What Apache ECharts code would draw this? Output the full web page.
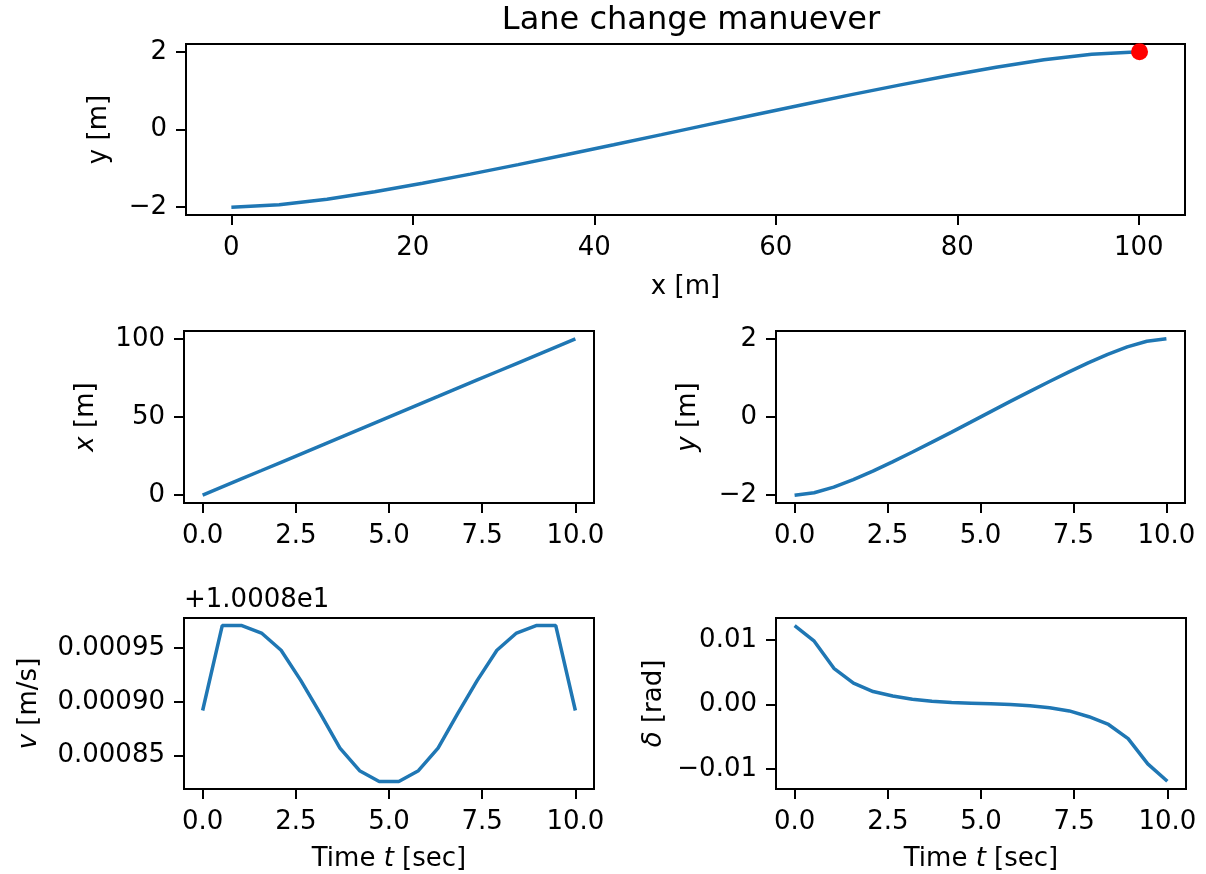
<!DOCTYPE html>
<html>
<head>
<meta charset="utf-8">
<script src="https://cdn.jsdelivr.net/npm/echarts@6/dist/echarts.min.js"></script>
<style>
html,body{margin:0;padding:0;background:#fff;}
#chart{width:1206px;height:874px;}
</style>
</head>
<body>
<div id="chart"></div>
<script>
// ---- data ----
const timeSec = [0, 0.526, 1.053, 1.579, 2.105, 2.632, 3.158, 3.684, 4.211, 4.737,
                 5.263, 5.789, 6.316, 6.842, 7.368, 7.895, 8.421, 8.947, 9.474, 10.0];
const xPos = [0, 5.27, 10.54, 15.80, 21.07, 26.34, 31.61, 36.87, 42.14, 47.41,
              52.68, 57.95, 63.21, 68.48, 73.75, 79.02, 84.28, 89.55, 94.82, 100.09];
const yPos = [-2.0, -1.939, -1.795, -1.604, -1.385, -1.149, -0.903, -0.650, -0.392, -0.132,
              0.132, 0.392, 0.650, 0.903, 1.149, 1.385, 1.604, 1.795, 1.939, 2.0];
// speed minus offset 10.008 (offset shown as "+1.0008e1")
const speedOffset = '+1.0008e1';
const speedRel = [0.000892, 0.000971, 0.000971, 0.000964, 0.000948, 0.000920, 0.000889, 0.000857, 0.000836, 0.000826,
                  0.000826, 0.000836, 0.000857, 0.000889, 0.000920, 0.000948, 0.000964, 0.000971, 0.000971, 0.000892];
const steer = [0.0122, 0.0098, 0.0056, 0.0033, 0.0020, 0.0013, 0.0008, 0.0005, 0.0003, 0.0002,
               0.0001, 0.0000, -0.0002, -0.0005, -0.0010, -0.0019, -0.0031, -0.0053, -0.0092, -0.0119];
const goalPoint = [[100.09, 2.0]];

// ---- tick labels ----
const xTopTicks = [0, 20, 40, 60, 80, 100];
const xTopLabels = ['0', '20', '40', '60', '80', '100'];
const yTicks = [-2, 0, 2];
const yLabels = ['\u22122', '0', '2'];
const xMidTicks = [0, 50, 100];
const xMidLabels = ['0', '50', '100'];
const tTicks = [0, 2.5, 5, 7.5, 10];
const tLabels = ['0.0', '2.5', '5.0', '7.5', '10.0'];
const vTicks = [0.00085, 0.00090, 0.00095];
const vLabels = ['0.00085', '0.00090', '0.00095'];
const dTicks = [-0.01, 0, 0.01];
const dLabels = ['\u22120.01', '0.00', '0.01'];

const FONT = 'DejaVu Sans';
const FS = 26;
const BLUE = '#1f77b4';

function fmt(ticks, labels) {
  return function (v) {
    for (let i = 0; i < ticks.length; i++) {
      if (Math.abs(v - ticks[i]) < 1e-9 * Math.max(1, Math.abs(ticks[i])) + 1e-12) return labels[i];
    }
    return '';
  };
}
const nameStyle = {
  fontFamily: FONT, fontSize: FS, color: '#000',
  rich: { i: { fontFamily: FONT, fontSize: FS, fontStyle: 'italic', color: '#000' } }
};
function axis(gridIndex, min, max, ticks, labels, name, nameGap, margin) {
  return {
    type: 'value', gridIndex: gridIndex, min: min, max: max,
    splitLine: { show: false },
    axisLine: { show: true, onZero: false, lineStyle: { color: '#000', width: 2 } },
    axisTick: { show: true, inside: false, length: 10, customValues: ticks,
                lineStyle: { color: '#000', width: 2 } },
    axisLabel: { customValues: ticks, formatter: fmt(ticks, labels), margin: margin,
                 fontFamily: FONT, fontSize: FS, color: '#000' },
    name: name, nameLocation: 'middle', nameGap: nameGap, nameTextStyle: nameStyle
  };
}
function pairs(a, b) { return a.map((v, i) => [v, b[i]]); }
const gridBase = { show: true, borderColor: '#000', borderWidth: 2, backgroundColor: '#fff' };

const option = {
  animation: false,
  backgroundColor: '#fff',
  title: {
    text: 'Lane change manuever', left: 686, top: 0, textAlign: 'center',
    textStyle: { fontFamily: FONT, fontSize: 32, fontWeight: 'normal', color: '#000' }
  },
  grid: [
    Object.assign({ left: 186, top: 44, width: 999, height: 171 }, gridBase),
    Object.assign({ left: 184, top: 331, width: 410, height: 172 }, gridBase),
    Object.assign({ left: 776, top: 331, width: 409, height: 172 }, gridBase),
    Object.assign({ left: 184, top: 618, width: 410, height: 171 }, gridBase),
    Object.assign({ left: 776, top: 618, width: 410, height: 171 }, gridBase)
  ],
  xAxis: [
    axis(0, -5.0, 105.1, xTopTicks, xTopLabels, 'x [m]', 59, 20),
    axis(1, -0.5, 10.5, tTicks, tLabels, '', 0, 20),
    axis(2, -0.5, 10.5, tTicks, tLabels, '', 0, 20),
    axis(3, -0.5, 10.5, tTicks, tLabels, 'Time {i|t} [sec]', 57, 20),
    axis(4, -0.5, 10.5, tTicks, tLabels, 'Time {i|t} [sec]', 57, 20)
  ],
  yAxis: [
    axis(0, -2.2, 2.2, yTicks, yLabels, 'y [m]', 74, 19),
    axis(1, -5.0, 105.1, xMidTicks, xMidLabels, '{i|x} [m]', 85, 19),
    axis(2, -2.2, 2.2, yTicks, yLabels, '{i|y} [m]', 75, 19),
    axis(3, 0.000819, 0.000978, vTicks, vLabels, '{i|v} [m/s]', 142, 19),
    axis(4, -0.0131, 0.0134, dTicks, dLabels, '{i|\u03b4} [rad]', 109, 19)
  ],
  series: [
    { type: 'line', xAxisIndex: 0, yAxisIndex: 0, data: pairs(xPos, yPos), symbol: 'none',
      lineStyle: { color: BLUE, width: 3.5 }, z: 2 },
    { type: 'scatter', xAxisIndex: 0, yAxisIndex: 0, data: goalPoint, symbol: 'circle', symbolSize: 17,
      itemStyle: { color: '#ff0000', opacity: 1 }, z: 3 },
    { type: 'line', xAxisIndex: 1, yAxisIndex: 1, data: pairs(timeSec, xPos), symbol: 'none',
      lineStyle: { color: BLUE, width: 3.5 } },
    { type: 'line', xAxisIndex: 2, yAxisIndex: 2, data: pairs(timeSec, yPos), symbol: 'none',
      lineStyle: { color: BLUE, width: 3.5 } },
    { type: 'line', xAxisIndex: 3, yAxisIndex: 3, data: pairs(timeSec, speedRel), symbol: 'none',
      lineStyle: { color: BLUE, width: 3.5 } },
    { type: 'line', xAxisIndex: 4, yAxisIndex: 4, data: pairs(timeSec, steer), symbol: 'none',
      lineStyle: { color: BLUE, width: 3.5 } }
  ],
  graphic: [
    { type: 'text', left: 184, top: 587,
      style: { text: speedOffset, fontFamily: FONT, fontSize: FS, fill: '#000' } }
  ]
};
const chart = echarts.init(document.getElementById('chart'), null, { renderer: 'canvas' });
chart.setOption(option);
</script>
</body>
</html>
